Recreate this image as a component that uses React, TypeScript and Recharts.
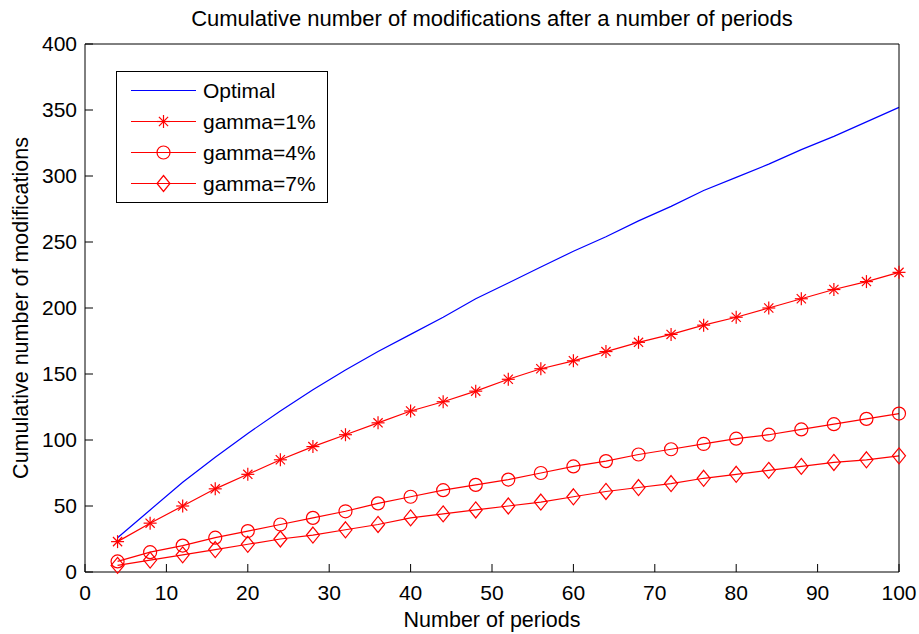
import React from "react";
import { Legend, Line, LineChart, XAxis, YAxis } from "recharts";

// number of periods (x) sampled every 4
const periods = [4, 8, 12, 16, 20, 24, 28, 32, 36, 40, 44, 48, 52, 56, 60, 64, 68, 72, 76, 80, 84, 88, 92, 96, 100];

const optimal = [26, 47, 68, 87, 105, 122, 138, 153, 167, 180, 193, 207, 219, 231, 243, 254, 266, 277, 289, 299, 309, 320, 330, 341, 352];
const gamma1 = [23, 37, 50, 63, 74, 85, 95, 104, 113, 122, 129, 137, 146, 154, 160, 167, 174, 180, 187, 193, 200, 207, 214, 220, 227];
const gamma4 = [8, 15, 20, 26, 31, 36, 41, 46, 52, 57, 62, 66, 70, 75, 80, 84, 89, 93, 97, 101, 104, 108, 112, 116, 120];
const gamma7 = [5, 9, 13, 17, 21, 25, 28, 32, 36, 41, 44, 47, 50, 53, 57, 61, 64, 67, 71, 74, 77, 80, 83, 85, 88];

const xTicks = [0, 10, 20, 30, 40, 50, 60, 70, 80, 90, 100];
const yTicks = [0, 50, 100, 150, 200, 250, 300, 350, 400];

const seriesNames = ["Optimal", "gamma=1%", "gamma=4%", "gamma=7%"];

const data = periods.map((p, i) => ({
  period: p,
  optimal: optimal[i],
  g1: gamma1[i],
  g4: gamma4[i],
  g7: gamma7[i],
}));

const RED = "#ff0000";
const BLUE = "#0000ff";
const FONT = '"Liberation Sans", Arial, Helvetica, sans-serif';

function StarMark({ cx, cy }: { cx: number; cy: number }) {
  const r = 6.5;
  const d = 4.6;
  return (
    <g stroke={RED} strokeWidth={1.2} fill="none">
      <line x1={cx - r} y1={cy} x2={cx + r} y2={cy} />
      <line x1={cx} y1={cy - r} x2={cx} y2={cy + r} />
      <line x1={cx - d} y1={cy - d} x2={cx + d} y2={cy + d} />
      <line x1={cx - d} y1={cy + d} x2={cx + d} y2={cy - d} />
    </g>
  );
}

function CircleMark({ cx, cy }: { cx: number; cy: number }) {
  return <circle cx={cx} cy={cy} r={6.5} stroke={RED} strokeWidth={1.2} fill="none" />;
}

function DiamondMark({ cx, cy }: { cx: number; cy: number }) {
  const w = 6.5;
  const h = 8;
  return (
    <path
      d={`M${cx},${cy - h}L${cx + w},${cy}L${cx},${cy + h}L${cx - w},${cy}Z`}
      stroke={RED}
      strokeWidth={1.2}
      fill="none"
    />
  );
}

const dotFor = (Mark: typeof StarMark) => (props: any) => {
  const { cx, cy, index, dataKey } = props;
  if (cx == null || cy == null) return <g key={`${dataKey}-${index}`} />;
  return (
    <g key={`${dataKey}-${index}`}>
      <Mark cx={cx} cy={cy} />
    </g>
  );
};

function LegendBox() {
  const marks = [null, StarMark, CircleMark, DiamondMark];
  return (
    <div
      style={{
        border: "1px solid #000",
        background: "#fff",
        padding: "3px 0",
        width: 210,
        fontFamily: FONT,
        fontSize: 21,
      }}
    >
      {seriesNames.map((name, i) => {
        const Mark = marks[i];
        const color = i === 0 ? BLUE : RED;
        return (
          <div key={name} style={{ display: "flex", alignItems: "center", height: 31 }}>
            <svg width={86} height={31} style={{ display: "block" }}>
              <line x1={14} y1={15.5} x2={79} y2={15.5} stroke={color} strokeWidth={1.2} />
              {Mark ? <Mark cx={46.5} cy={15.5} /> : null}
            </svg>
            <span style={{ color: "#000", lineHeight: "31px" }}>{name}</span>
          </div>
        );
      })}
    </div>
  );
}

export default function App() {
  const tickStyle = { fill: "#000", fontSize: 21 };
  return (
    <div style={{ position: "absolute", left: 0, top: 0, width: 919, height: 634, background: "#fff", fontFamily: FONT }}>
      <LineChart width={919} height={634} data={data} margin={{ top: 43, right: 19, bottom: 0, left: 0 }}>
        <XAxis
          dataKey="period"
          type="number"
          domain={[0, 100]}
          ticks={xTicks}
          height={62}
          stroke="#000"
          tickSize={-8}
          tickMargin={21}
          tick={tickStyle}
          label={{ value: "Number of periods", position: "insideBottom", offset: 7, fill: "#000", fontSize: 21.5 }}
        />
        <XAxis
          xAxisId="top"
          orientation="top"
          dataKey="period"
          type="number"
          domain={[0, 100]}
          ticks={xTicks}
          height={1}
          stroke="#000"
          tickSize={-8}
          tick={false}
          label={{
            value: "Cumulative number of modifications after a number of periods",
            position: "top",
            offset: 17,
            fill: "#000",
            fontSize: 22,
          }}
        />
        <YAxis
          type="number"
          domain={[0, 400]}
          ticks={yTicks}
          width={85}
          stroke="#000"
          tickSize={-8}
          tickMargin={16}
          tick={tickStyle}
          label={{
            value: "Cumulative number of modifications",
            angle: -90,
            position: "insideLeft",
            offset: 20,
            textAnchor: "middle",
            fill: "#000",
            fontSize: 21.5,
          }}
        />
        <YAxis
          yAxisId="right"
          orientation="right"
          type="number"
          domain={[0, 400]}
          ticks={yTicks}
          width={1}
          stroke="#000"
          tickSize={-8}
          tick={false}
        />
        <Legend
          layout="vertical"
          align="center"
          verticalAlign="middle"
          content={() => <LegendBox />}
          wrapperStyle={{ left: 116, top: 71, width: 212, height: 132 }}
        />
        <Line dataKey="optimal" stroke={BLUE} strokeWidth={1.2} dot={false} isAnimationActive={false} />
        <Line dataKey="g1" stroke={RED} strokeWidth={1.2} dot={dotFor(StarMark)} isAnimationActive={false} />
        <Line dataKey="g4" stroke={RED} strokeWidth={1.2} dot={dotFor(CircleMark)} isAnimationActive={false} />
        <Line dataKey="g7" stroke={RED} strokeWidth={1.2} dot={dotFor(DiamondMark)} isAnimationActive={false} />
      </LineChart>
    </div>
  );
}
